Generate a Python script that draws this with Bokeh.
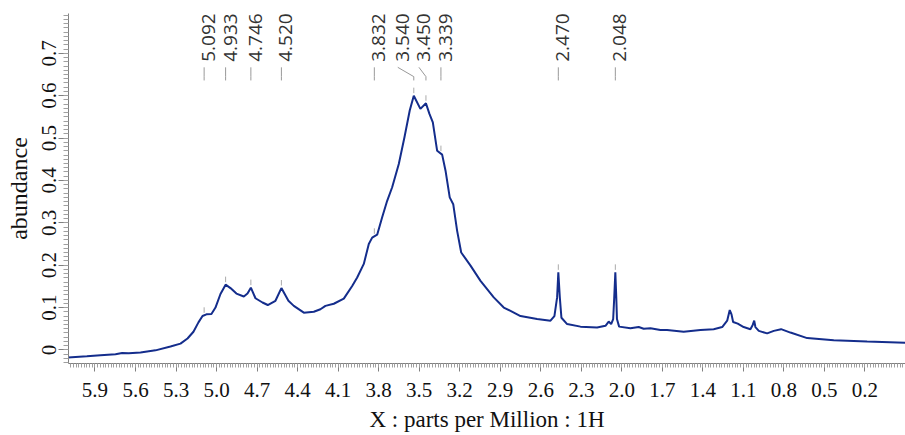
import numpy as np
from bokeh.plotting import figure
from bokeh.models import Range1d, FixedTicker, ColumnDataSource
from bokeh.core.properties import value
from bokeh.embed import file_html
from bokeh.resources import INLINE

# ---- data ----
ppm = [6.10, 5.96, 5.859, 5.748, 5.699, 5.65, 5.563, 5.452, 5.341, 5.267, 5.215, 5.171,
       5.134, 5.104, 5.075, 5.038, 5.008, 4.971, 4.933, 4.897, 4.853, 4.798, 4.771, 4.746,
       4.712, 4.660, 4.621, 4.564, 4.520, 4.468, 4.428, 4.354, 4.280, 4.231, 4.194, 4.132,
       4.058, 3.996, 3.959, 3.910, 3.873, 3.848, 3.811, 3.774, 3.737, 3.700, 3.651, 3.609,
       3.570, 3.540, 3.491, 3.450, 3.424, 3.399, 3.367, 3.330, 3.305, 3.274, 3.248, 3.219,
       3.189, 3.120, 3.046, 2.948, 2.874, 2.824, 2.750, 2.627, 2.528, 2.499, 2.479, 2.470,
       2.459, 2.447, 2.405, 2.306, 2.183, 2.121, 2.097, 2.079, 2.064, 2.056, 2.048, 2.041,
       2.036, 2.020, 1.936, 1.875, 1.838, 1.788, 1.714, 1.665, 1.542, 1.418, 1.320, 1.257,
       1.220, 1.201, 1.188, 1.176, 1.142, 1.098, 1.048, 1.031, 1.020, 1.011, 0.986, 0.924,
       0.875, 0.821, 0.752, 0.628, 0.431, 0.184, -0.10]
abundance = [-0.018, -0.015, -0.0125, -0.010, -0.007, -0.008, -0.006, -0.001, 0.008, 0.015,
             0.027, 0.043, 0.065, 0.080, 0.084, 0.085, 0.100, 0.132, 0.154, 0.146, 0.133,
             0.126, 0.133, 0.147, 0.122, 0.112, 0.106, 0.116, 0.146, 0.116, 0.104, 0.088,
             0.090, 0.096, 0.104, 0.109, 0.121, 0.151, 0.171, 0.203, 0.250, 0.265, 0.272,
             0.313, 0.352, 0.384, 0.439, 0.502, 0.565, 0.600, 0.569, 0.582, 0.557, 0.537,
             0.470, 0.461, 0.423, 0.360, 0.344, 0.281, 0.230, 0.199, 0.163, 0.124, 0.100,
             0.092, 0.080, 0.073, 0.069, 0.080, 0.124, 0.183, 0.124, 0.076, 0.061, 0.055,
             0.053, 0.057, 0.067, 0.061, 0.073, 0.124, 0.183, 0.124, 0.073, 0.055, 0.051,
             0.054, 0.050, 0.051, 0.047, 0.047, 0.043, 0.047, 0.049, 0.054, 0.069, 0.094,
             0.084, 0.066, 0.062, 0.054, 0.049, 0.059, 0.069, 0.054, 0.045, 0.039, 0.045,
             0.049, 0.041, 0.028, 0.023, 0.020, 0.017]

peak_ppm = [5.092, 4.933, 4.746, 4.520, 3.832, 3.540, 3.450, 3.339, 2.470, 2.048]
peak_labels = ["5.092", "4.933", "4.746", "4.520", "3.832", "3.540", "3.450", "3.339",
               "2.470", "2.048"]

x_tick_values = [5.9, 5.6, 5.3, 5.0, 4.7, 4.4, 4.1, 3.8, 3.5, 3.2, 2.9, 2.6, 2.3, 2.0,
                 1.7, 1.4, 1.1, 0.8, 0.5, 0.2]
x_tick_labels = ["5.9", "5.6", "5.3", "5.0", "4.7", "4.4", "4.1", "3.8", "3.5", "3.2",
                 "2.9", "2.6", "2.3", "2.0", "1.7", "1.4", "1.1", "0.8", "0.5", "0.2"]
y_tick_values = [0, 0.1, 0.2, 0.3, 0.4, 0.5, 0.6, 0.7]
y_tick_labels = ["0", "0.1", "0.2", "0.3", "0.4", "0.5", "0.6", "0.7"]
x_title = "X : parts per Million : 1H"
y_title = "abundance"

# ---- layout ----
W, H = 905, 435
X0, X1 = 6.096, -0.10
Y0, Y1 = -0.032, 0.794
FRAME_W = 837
ppm_per_px = (X0 - X1) / FRAME_W
label_shift_px = [0, 0, 0, 0, 0, -16, -7, 0, 0, 0]   # de-crowding of peak labels
SERIF = "Liberation Serif, Times New Roman, Times, serif"

p = figure(width=W, height=H, x_range=Range1d(X0, X1), y_range=Range1d(Y0, Y1),
           output_backend="svg", toolbar_location=None,
           min_border_left=68, min_border_right=0, min_border_top=13, min_border_bottom=72)
p.outline_line_color = None
p.xgrid.visible = False
p.ygrid.visible = False
p.background_fill_color = "white"

p.line(ppm, abundance, line_color="#142d8c", line_width=2)

# peak markers
x_rev = np.array(ppm)[::-1]
y_rev = np.array(abundance)[::-1]
heights = np.interp(peak_ppm, x_rev, y_rev)
p.segment(x0=peak_ppm, y0=list(heights + 0.006), x1=peak_ppm, y1=list(heights + 0.019),
          line_color="#aaaaaa", line_width=1)

# leader lines
shift = np.array(label_shift_px, dtype=float)
top_x = list(np.array(peak_ppm) - shift * ppm_per_px)
p.segment(x0=top_x, y0=[0.667] * len(peak_ppm), x1=peak_ppm, y1=[0.645] * len(peak_ppm),
          line_color="#999999", line_width=1)
p.segment(x0=peak_ppm, y0=[0.645] * len(peak_ppm), x1=peak_ppm, y1=[0.636] * len(peak_ppm),
          line_color="#999999", line_width=1)

src = ColumnDataSource(dict(x=peak_ppm, y=[0.680] * len(peak_ppm), t=peak_labels,
                            dx=list(4.5 + shift)))
p.text(x="x", y="y", text="t", x_offset="dx", angle=np.pi / 2, source=src,
       text_align="left", text_baseline="middle", text_font=value("Open Sans"),
       text_font_size="19px", text_color="#333333")

# axes
minor_x = [round(v, 3) for v in np.arange(-0.10, 6.11, 0.02)]
p.xaxis.ticker = FixedTicker(ticks=x_tick_values, minor_ticks=minor_x)
p.xaxis.major_label_overrides = {v: s for v, s in zip(x_tick_values, x_tick_labels)}
minor_y = [round(v, 3) for v in np.arange(-0.03, 0.795, 0.01)]
p.yaxis.ticker = FixedTicker(ticks=y_tick_values, minor_ticks=minor_y)
p.yaxis.major_label_overrides = {v: s for v, s in zip(y_tick_values, y_tick_labels)}
p.yaxis.major_label_orientation = "vertical"

for ax in (p.xaxis[0], p.yaxis[0]):
    ax.axis_line_color = "#808080"
    ax.major_tick_line_color = "#808080"
    ax.minor_tick_line_color = "#a0a0a0"
    ax.major_tick_in = 0
    ax.minor_tick_in = 0
    ax.major_label_text_font = SERIF
    ax.major_label_text_font_size = "21px"
    ax.major_label_text_color = "#111111"
    ax.axis_label_text_font = SERIF
    ax.axis_label_text_font_style = "normal"
    ax.axis_label_text_color = "#111111"

p.xaxis.major_tick_out = 8
p.xaxis.minor_tick_out = 4
p.xaxis.major_label_standoff = 11
p.xaxis.axis_label = x_title
p.xaxis.axis_label_text_font_size = "23px"
p.xaxis.axis_label_standoff = 7

p.yaxis.major_tick_out = 10
p.yaxis.minor_tick_out = 5
p.yaxis.major_label_standoff = 2
p.yaxis.axis_label = y_title
p.yaxis.axis_label_text_font_size = "24px"
p.yaxis.axis_label_standoff = 8

open("out.html", "w").write(file_html(p, INLINE))
